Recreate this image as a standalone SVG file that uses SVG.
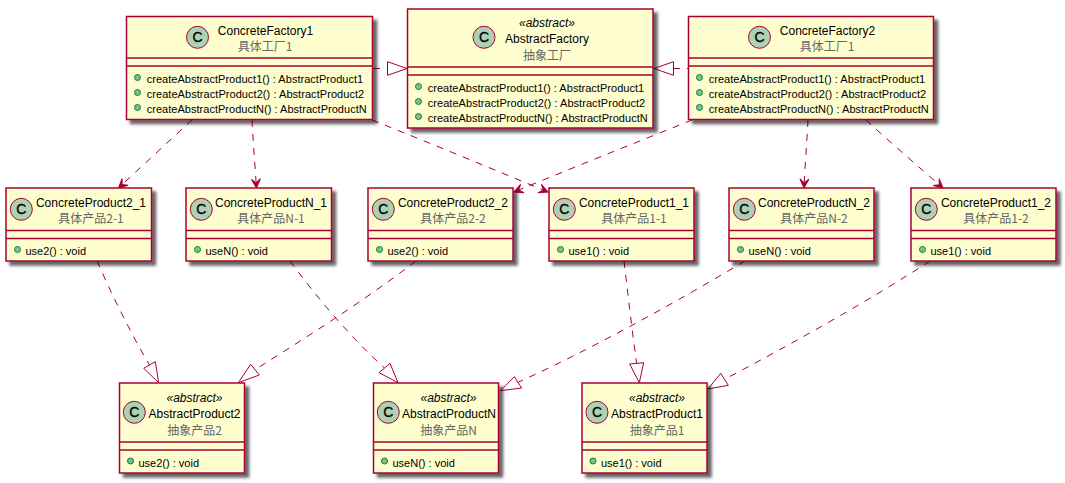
<svg xmlns="http://www.w3.org/2000/svg" width="1065" height="483" viewBox="0 0 1065 483">
<style>
.box{fill:#FEFECE;stroke:#A80036;stroke-width:1.5}
.sep{stroke:#A80036;stroke-width:1.5;fill:none}
.badge{fill:#ADD1B2;stroke:#A80036;stroke-width:1}
.dot{fill:#84BE84;stroke:#038048;stroke-width:1}
.n{font:12px "Liberation Sans","Noto Sans CJK SC",sans-serif;fill:#000;text-anchor:middle}
.z{font:12px "Noto Sans CJK SC","Liberation Sans",sans-serif;fill:#666;text-anchor:middle}
.s{font:italic 12px "Liberation Sans",sans-serif;fill:#000;text-anchor:middle}
.m{font:11px "Liberation Sans",sans-serif;fill:#000}
.c{font:14px "Liberation Sans",sans-serif;fill:#000;stroke:#000;stroke-width:.3;text-anchor:middle}
.e{fill:none;stroke:#A80036;stroke-width:1;stroke-dasharray:7 7}
.h{fill:none;stroke:#A80036;stroke-width:1}
</style>
<defs>
<filter id="sh" x="-10%" y="-10%" width="120%" height="125%"><feGaussianBlur stdDeviation="1.6" in="SourceAlpha"/><feOffset dx="4" dy="4"/><feColorMatrix values="0 0 0 0 0 0 0 0 0 0 0 0 0 0 0 0 0 0 .6 0"/><feMerge><feMergeNode/><feMergeNode in="SourceGraphic"/></feMerge></filter>
<marker id="open" markerUnits="userSpaceOnUse" markerWidth="14" markerHeight="14" refX="10" refY="7" orient="auto" overflow="visible"><path d="M1 2.500L10 7L1 11.500L5 7Z" fill="#A80036" stroke="#A80036"/></marker>
</defs>
<g id="connectors">
<path class="e" d="M192 120C170 140 140 168 118.500 188" marker-end="url(#open)"/>
<path class="e" d="M252 120C253 140 255 165 256.500 188" marker-end="url(#open)"/>
<path class="e" d="M372 120C430 143 490 168 548 192" marker-end="url(#open)"/>
<path class="e" d="M692 120C635 143 572 168 514 192" marker-end="url(#open)"/>
<path class="e" d="M808 120C807 140 805 165 804 188" marker-end="url(#open)"/>
<path class="e" d="M866 120C890 142 920 168 943 188" marker-end="url(#open)"/>
<path class="e" d="M373 68.500L387 68.500"/>
<polygon class="h" points="407,68.500 387.500,61.700 387.500,75.300"/>
<path class="e" d="M673 68.500L688 68.500"/>
<polygon class="h" points="654,68.500 673.500,61.700 673.500,75.300"/>
<path class="e" d="M97 261C112 295 130 332 149.500 365"/>
<polygon class="h" points="158.700,382.700 143.700,368.300 155.300,361.700"/>
<path class="e" d="M290 261C315 295 350 337 384.500 368"/>
<polygon class="h" points="398,382.700 379,372.700 390,363.300"/>
<path class="e" d="M416 261C365 300 310 335 255 369.700"/>
<polygon class="h" points="238.300,382.700 250.700,364.300 259.300,375"/>
<path class="e" d="M624 261C628 295 632 330 636.700 363.300"/>
<polygon class="h" points="639.300,382.700 629.700,364 643.700,362.700"/>
<path class="e" d="M745 261C680 300 590 350 518 382.300"/>
<polygon class="h" points="500.700,390.700 514.300,376.700 521.700,388"/>
<path class="e" d="M930 261C870 300 790 345 724.500 379.300"/>
<polygon class="h" points="708,389 720.700,373.300 728.300,385.300"/>
</g>
<g id="ConcreteFactory1">
<rect class="box" x="126.500" y="16.500" width="246" height="103" filter="url(#sh)"/>
<path class="sep" d="M126.500 58H372.500M126.500 66H372.500"/>
<circle class="badge" cx="197.500" cy="37.300" r="11"/><text class="c" x="197.500" y="42.300">C</text>
<text class="n" x="265.500" y="35">ConcreteFactory1</text><text class="z" x="265" y="51">具体工厂1</text>
<circle class="dot" cx="137.500" cy="77.500" r="3"/><circle class="dot" cx="137.500" cy="92.500" r="3"/><circle class="dot" cx="137.500" cy="107.500" r="3"/>
<text class="m" x="146.700" y="83" textLength="216.500">createAbstractProduct1() : AbstractProduct1</text>
<text class="m" x="146.700" y="98" textLength="217.500">createAbstractProduct2() : AbstractProduct2</text>
<text class="m" x="146.700" y="113" textLength="220">createAbstractProductN() : AbstractProductN</text>
</g>
<g id="AbstractFactory">
<rect class="box" x="407.500" y="9" width="245.500" height="119" filter="url(#sh)"/>
<path class="sep" d="M407.500 67H653M407.500 75H653"/>
<circle class="badge" cx="484" cy="37.300" r="11"/><text class="c" x="484" y="42.300">C</text>
<text class="s" x="547" y="27">«abstract»</text><text class="n" x="547" y="43">AbstractFactory</text><text class="z" x="547" y="60">抽象工厂</text>
<circle class="dot" cx="418.500" cy="86.500" r="3"/><circle class="dot" cx="418.500" cy="101.500" r="3"/><circle class="dot" cx="418.500" cy="116.500" r="3"/>
<text class="m" x="427.700" y="92" textLength="216.500">createAbstractProduct1() : AbstractProduct1</text>
<text class="m" x="427.700" y="107" textLength="217.500">createAbstractProduct2() : AbstractProduct2</text>
<text class="m" x="427.700" y="122" textLength="220">createAbstractProductN() : AbstractProductN</text>
</g>
<g id="ConcreteFactory2">
<rect class="box" x="688.500" y="16.500" width="245" height="103" filter="url(#sh)"/>
<path class="sep" d="M688.500 58H933.500M688.500 66H933.500"/>
<circle class="badge" cx="759.500" cy="37.300" r="11"/><text class="c" x="759.500" y="42.300">C</text>
<text class="n" x="827.500" y="35">ConcreteFactory2</text><text class="z" x="827" y="51">具体工厂1</text>
<circle class="dot" cx="699.500" cy="77.500" r="3"/><circle class="dot" cx="699.500" cy="92.500" r="3"/><circle class="dot" cx="699.500" cy="107.500" r="3"/>
<text class="m" x="708.700" y="83" textLength="216.500">createAbstractProduct1() : AbstractProduct1</text>
<text class="m" x="708.700" y="98" textLength="217.500">createAbstractProduct2() : AbstractProduct2</text>
<text class="m" x="708.700" y="113" textLength="220">createAbstractProductN() : AbstractProductN</text>
</g>
<g id="ConcreteProduct2_1">
<rect class="box" x="6" y="188" width="145.500" height="73" filter="url(#sh)"/>
<path class="sep" d="M6 230.500H151.500M6 238.500H151.500"/>
<circle class="badge" cx="21.300" cy="209.300" r="11"/><text class="c" x="21.300" y="214.300">C</text>
<text class="n" x="91" y="207">ConcreteProduct2_1</text><text class="z" x="91" y="223">具体产品2-1</text>
<circle class="dot" cx="17.500" cy="249.500" r="3"/><text class="m" x="25.500" y="255">use2() : void</text>
</g>
<g id="ConcreteProductN_1">
<rect class="box" x="186" y="188" width="145.500" height="73" filter="url(#sh)"/>
<path class="sep" d="M186 230.500H331.500M186 238.500H331.500"/>
<circle class="badge" cx="201.300" cy="209.300" r="11"/><text class="c" x="201.300" y="214.300">C</text>
<text class="n" x="271" y="207">ConcreteProductN_1</text><text class="z" x="271" y="223">具体产品N-1</text>
<circle class="dot" cx="197.500" cy="249.500" r="3"/><text class="m" x="205.500" y="255">useN() : void</text>
</g>
<g id="ConcreteProduct2_2">
<rect class="box" x="368" y="188" width="145" height="73" filter="url(#sh)"/>
<path class="sep" d="M368 230.500H513M368 238.500H513"/>
<circle class="badge" cx="383.300" cy="209.300" r="11"/><text class="c" x="383.300" y="214.300">C</text>
<text class="n" x="453" y="207">ConcreteProduct2_2</text><text class="z" x="453" y="223">具体产品2-2</text>
<circle class="dot" cx="379.500" cy="249.500" r="3"/><text class="m" x="387.500" y="255">use2() : void</text>
</g>
<g id="ConcreteProduct1_1">
<rect class="box" x="549" y="188" width="145" height="73" filter="url(#sh)"/>
<path class="sep" d="M549 230.500H694M549 238.500H694"/>
<circle class="badge" cx="564.300" cy="209.300" r="11"/><text class="c" x="564.300" y="214.300">C</text>
<text class="n" x="634" y="207">ConcreteProduct1_1</text><text class="z" x="634" y="223">具体产品1-1</text>
<circle class="dot" cx="560.500" cy="249.500" r="3"/><text class="m" x="568.500" y="255">use1() : void</text>
</g>
<g id="ConcreteProductN_2">
<rect class="box" x="729" y="188" width="145" height="73" filter="url(#sh)"/>
<path class="sep" d="M729 230.500H874M729 238.500H874"/>
<circle class="badge" cx="744.300" cy="209.300" r="11"/><text class="c" x="744.300" y="214.300">C</text>
<text class="n" x="814" y="207">ConcreteProductN_2</text><text class="z" x="814" y="223">具体产品N-2</text>
<circle class="dot" cx="740.500" cy="249.500" r="3"/><text class="m" x="748.500" y="255">useN() : void</text>
</g>
<g id="ConcreteProduct1_2">
<rect class="box" x="911" y="188" width="145" height="73" filter="url(#sh)"/>
<path class="sep" d="M911 230.500H1056M911 238.500H1056"/>
<circle class="badge" cx="926.300" cy="209.300" r="11"/><text class="c" x="926.300" y="214.300">C</text>
<text class="n" x="996" y="207">ConcreteProduct1_2</text><text class="z" x="996" y="223">具体产品1-2</text>
<circle class="dot" cx="922.500" cy="249.500" r="3"/><text class="m" x="930.500" y="255">use1() : void</text>
</g>
<g id="AbstractProduct2">
<rect class="box" x="119.500" y="383" width="125" height="90" filter="url(#sh)"/>
<path class="sep" d="M119.500 442H244.500M119.500 450H244.500"/>
<circle class="badge" cx="134.300" cy="412.300" r="11"/><text class="c" x="134.300" y="417.300">C</text>
<text class="s" x="194.500" y="402">«abstract»</text><text class="n" x="194.500" y="418">AbstractProduct2</text><text class="z" x="194.500" y="435">抽象产品2</text>
<circle class="dot" cx="130.500" cy="461" r="3"/><text class="m" x="138.500" y="467">use2() : void</text>
</g>
<g id="AbstractProductN">
<rect class="box" x="373.500" y="383" width="125" height="90" filter="url(#sh)"/>
<path class="sep" d="M373.500 442H498.500M373.500 450H498.500"/>
<circle class="badge" cx="388.300" cy="412.300" r="11"/><text class="c" x="388.300" y="417.300">C</text>
<text class="s" x="448.500" y="402">«abstract»</text><text class="n" x="449" y="418">AbstractProductN</text><text class="z" x="448.500" y="435">抽象产品N</text>
<circle class="dot" cx="384.500" cy="461" r="3"/><text class="m" x="392.500" y="467">useN() : void</text>
</g>
<g id="AbstractProduct1">
<rect class="box" x="582" y="383" width="125" height="90" filter="url(#sh)"/>
<path class="sep" d="M582 442H707M582 450H707"/>
<circle class="badge" cx="597" cy="412.300" r="11"/><text class="c" x="597" y="417.300">C</text>
<text class="s" x="657" y="402">«abstract»</text><text class="n" x="657" y="418">AbstractProduct1</text><text class="z" x="657" y="435">抽象产品1</text>
<circle class="dot" cx="593" cy="461" r="3"/><text class="m" x="601" y="467">use1() : void</text>
</g>
</svg>
